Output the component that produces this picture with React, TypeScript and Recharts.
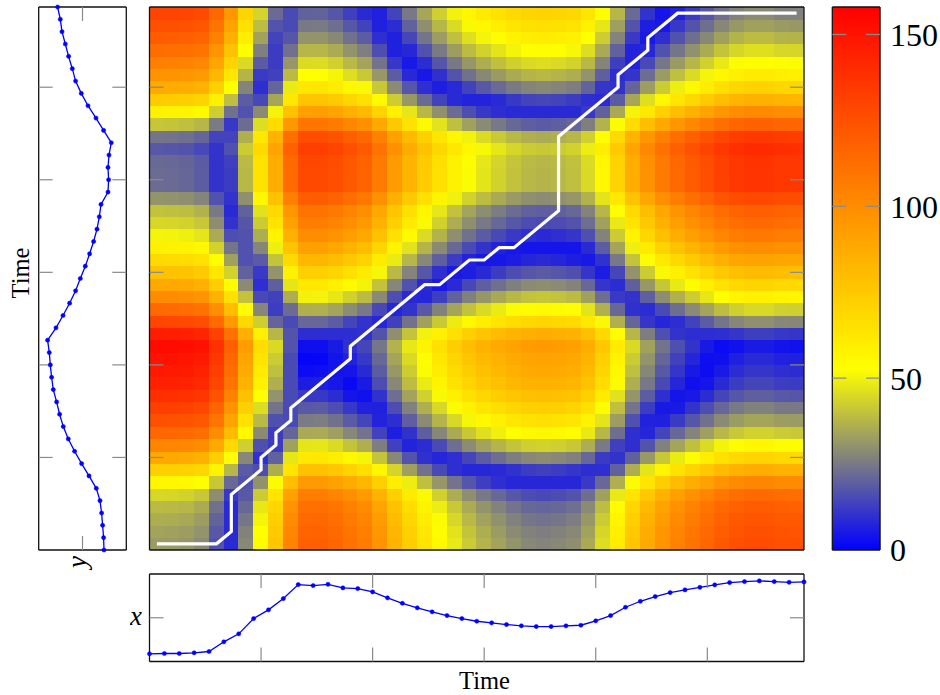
import { BarChart, Bar, LineChart, Line, ScatterChart, Scatter, XAxis, YAxis } from "recharts"

const FONT = "'Liberation Serif', serif"
const BLUE = "#0000ff"

// values, time step 0..44
const seriesX = [
  7.7, 8, 8, 8.7, 10, 19.7, 27.7, 43, 51.7, 63, 77, 76, 77.3, 73.7, 73, 69.7, 63.7, 58.3, 53.7, 49.7, 46, 43, 40.3,
  38.7, 37, 35.7, 35, 35, 35.7, 36.3, 40.7, 46, 54.3, 60.3, 65, 69, 71.7, 74.3, 76.7, 79, 80, 80.7, 80, 79.3, 79.7,
]
const seriesY = [
  22.3, 22.7, 23.7, 24.7, 26.3, 30, 37.3, 44.7, 51.7, 58, 63, 66.7, 69.7, 73, 74.7, 76, 77, 78.7, 70.3, 63.3, 56.7,
  50.7, 46, 41, 36.7, 32.7, 29.3, 27, 25.3, 18.3, 17.7, 18.3, 17.3, 15, 22.7, 30.3, 38.3, 45, 50.7, 54, 57.7, 61,
  64.3, 66, 68.7,
]
// corners of the warping path, in cells of the matrix
const pathCol = [0, 4, 5, 5, 7, 7, 8, 8, 9, 9, 13, 13, 18, 19, 21, 22, 23, 24, 27, 27, 31, 31, 33, 33, 35, 43]
const pathRow = [0, 0, 1, 4, 6, 7, 8, 9, 10, 11, 15, 16, 21, 21, 23, 23, 24, 24, 27, 33, 37, 38, 40, 41, 43, 43]

const timeTicks = [7.5, 15, 22.5, 30, 37.5]
const valueTicks = [43.8]
const barTicks = [0, 50, 100, 150]
const innerBarTicks = [50, 100, 150]
const COST_MAX = 158
const YELLOW_AT = 52.7
// the matrix is the distance between the two series read above, in picture units
const COST_PER_UNIT = 2.19
const TIME_MAX = 44
const VALUE_MAX = 87.6

const lineX = seriesX.map((v, t) => ({ t, v }))
const lineY = seriesY.map((v, t) => ({ t, v }))
const pathData = pathCol.map((c, k) => ({ col: c + 0.5, row: pathRow[k] + 0.5 }))
const barData = [{ name: "cost", value: COST_MAX }]

const cost = (i: number, j: number) => Math.abs(seriesX[i] - seriesY[j]) * COST_PER_UNIT

const cells: { col: number; row: number; value: number }[] = []
for (let i = 0; i < TIME_MAX; i++) {
  for (let j = 0; j < TIME_MAX; j++) {
    cells.push({
      col: i + 0.5,
      row: j + 0.5,
      value: (cost(i, j) + cost(i + 1, j) + cost(i, j + 1) + cost(i + 1, j + 1)) / 4,
    })
  }
}

const colorOf = (v: number) => {
  if (v <= YELLOW_AT) {
    const k = Math.round((255 * v) / YELLOW_AT)
    return `rgb(${k},${k},${255 - k})`
  }
  const g = Math.max(0, Math.round((255 * (COST_MAX - v)) / (COST_MAX - YELLOW_AT)))
  return `rgb(255,${g},0)`
}

const CELL_W = 15.4
const CELL_H = 12.8

const HeatCell = (props: any) => (
  <rect
    x={props.cx - CELL_W / 2}
    y={props.cy - CELL_H / 2}
    width={CELL_W}
    height={CELL_H}
    fill={colorOf(props.payload.value)}
    stroke="none"
    shapeRendering="crispEdges"
  />
)

const axisLine = { stroke: "#111", strokeWidth: 1.3 }
const tickLine = { stroke: "#8a8a8a", strokeWidth: 1.2 }
const noLabel = () => <g />

// four mirrored axes: the black frame with the short grey ticks pointing inwards
const frameAxes = (
  xDomain: number[],
  yDomain: number[],
  xTicks: number[],
  yTicks: number[],
  yReversed = false,
) => [
  <XAxis
    key="fb"
    xAxisId="fb"
    orientation="bottom"
    type="number"
    domain={xDomain}
    allowDataOverflow
    ticks={xTicks}
    interval={0}
    mirror
    height={1}
    tick={noLabel}
    tickSize={14}
    tickLine={tickLine}
    axisLine={axisLine}
  />,
  <XAxis
    key="ft"
    xAxisId="ft"
    orientation="top"
    type="number"
    domain={xDomain}
    allowDataOverflow
    ticks={xTicks}
    interval={0}
    mirror
    height={1}
    tick={noLabel}
    tickSize={14}
    tickLine={tickLine}
    axisLine={axisLine}
  />,
  <YAxis
    key="fl"
    yAxisId="fl"
    orientation="left"
    type="number"
    domain={yDomain}
    allowDataOverflow
    ticks={yTicks}
    interval={0}
    reversed={yReversed}
    mirror
    width={1}
    tick={noLabel}
    tickSize={14}
    tickLine={tickLine}
    axisLine={axisLine}
  />,
  <YAxis
    key="fr"
    yAxisId="fr"
    orientation="right"
    type="number"
    domain={yDomain}
    allowDataOverflow
    ticks={yTicks}
    interval={0}
    reversed={yReversed}
    mirror
    width={1}
    tick={noLabel}
    tickSize={14}
    tickLine={tickLine}
    axisLine={axisLine}
  />,
]

const place = (left: number, top: number): React.CSSProperties => ({ position: "absolute", left, top })

const heatMargin = { left: 9.5, right: 11, top: 7, bottom: 10 }
const barMargin = { left: 12.3, right: 60, top: 7, bottom: 30 }

export default function App() {
  return (
    <div style={{ position: "absolute", left: 0, top: 0, width: 940, height: 695, background: "#fff", fontFamily: FONT }}>
      {/* y series, time runs upwards */}
      <div style={place(0, 0)}>
        <LineChart
          width={135}
          height={580}
          data={lineY}
          layout="vertical"
          margin={{ left: 38.7, right: 8.7, top: 7, bottom: 30 }}
        >
          <XAxis hide type="number" domain={[0, VALUE_MAX]} reversed />
          <YAxis hide type="number" dataKey="t" domain={[0, TIME_MAX]} reversed />
          <Line
            dataKey="v"
            stroke={BLUE}
            strokeWidth={1.3}
            dot={{ r: 2.1, fill: BLUE, stroke: BLUE, strokeWidth: 0.5 }}
            isAnimationActive={false}
          />
          {frameAxes([0, VALUE_MAX], [0, TIME_MAX], valueTicks, timeTicks, true)}
          <text x={29} y={273} fontSize={24.5} fontFamily={FONT} textAnchor="middle" transform="rotate(-90 29 273)">
            Time
          </text>
          <text x={86} y={562} fontSize={27} fontFamily={FONT} fontStyle="italic" textAnchor="middle" transform="rotate(-90 86 562)">
            y
          </text>
        </LineChart>
      </div>

      {/* cost matrix and warping path */}
      <div style={place(140, 0)}>
        <ScatterChart width={675} height={560} margin={heatMargin}>
          <XAxis hide type="number" dataKey="col" domain={[0, TIME_MAX]} />
          <YAxis hide type="number" dataKey="row" domain={[0, TIME_MAX]} />
          <Scatter data={cells} shape={HeatCell} isAnimationActive={false} />
          <Scatter
            data={pathData}
            line={{ stroke: "#fff", strokeWidth: 3.2 }}
            shape={() => null}
            isAnimationActive={false}
          />
        </ScatterChart>
      </div>
      {/* axes sit under the series in a chart, so the frame goes in a chart of its own on top */}
      <div style={place(140, 0)}>
        <ScatterChart width={675} height={560} margin={heatMargin}>
          {frameAxes([0, TIME_MAX], [0, TIME_MAX], timeTicks, timeTicks)}
        </ScatterChart>
      </div>

      {/* colour bar */}
      <div style={place(820, 0)}>
        <BarChart width={120} height={580} data={barData} barCategoryGap={0} margin={barMargin}>
          <defs>
            <linearGradient id="costBar" x1="0" y1="0" x2="0" y2="1">
              <stop offset={0} stopColor="#ff0000" />
              <stop offset={1 - YELLOW_AT / COST_MAX} stopColor="#ffff00" />
              <stop offset={1} stopColor="#0000ff" />
            </linearGradient>
          </defs>
          <XAxis hide dataKey="name" />
          <YAxis hide domain={[0, COST_MAX]} />
          <Bar dataKey="value" fill="url(#costBar)" isAnimationActive={false} />
        </BarChart>
      </div>
      <div style={place(820, 0)}>
        <BarChart width={120} height={580} data={barData} margin={{ ...barMargin, right: 0 }}>
          {frameAxes([0, 1], [0, COST_MAX], [], innerBarTicks)}
          <YAxis
            yAxisId="labels"
            orientation="right"
            type="number"
            domain={[0, COST_MAX]}
            allowDataOverflow
            ticks={barTicks}
            interval={0}
            width={60}
            tickSize={0}
            tickMargin={10}
            tickLine={false}
            axisLine={false}
            tick={{ fill: "#000", fontSize: 32, fontFamily: FONT, textAnchor: "start" }}
          />
        </BarChart>
      </div>

      {/* x series */}
      <div style={place(130, 565)}>
        <LineChart
          width={685}
          height={130}
          data={lineX}
          margin={{ left: 19.5, right: 11, top: 9, bottom: 33.5 }}
        >
          <XAxis hide type="number" dataKey="t" domain={[0, TIME_MAX]} />
          <YAxis hide type="number" domain={[0, VALUE_MAX]} />
          <Line
            dataKey="v"
            stroke={BLUE}
            strokeWidth={1.3}
            dot={{ r: 2.1, fill: BLUE, stroke: BLUE, strokeWidth: 0.5 }}
            isAnimationActive={false}
          />
          {frameAxes([0, TIME_MAX], [0, VALUE_MAX], timeTicks, valueTicks)}
          <text x={6} y={60} fontSize={27} fontFamily={FONT} fontStyle="italic" textAnchor="middle">
            x
          </text>
          <text x={354.5} y={124} fontSize={24.5} fontFamily={FONT} textAnchor="middle">
            Time
          </text>
        </LineChart>
      </div>
    </div>
  )
}
